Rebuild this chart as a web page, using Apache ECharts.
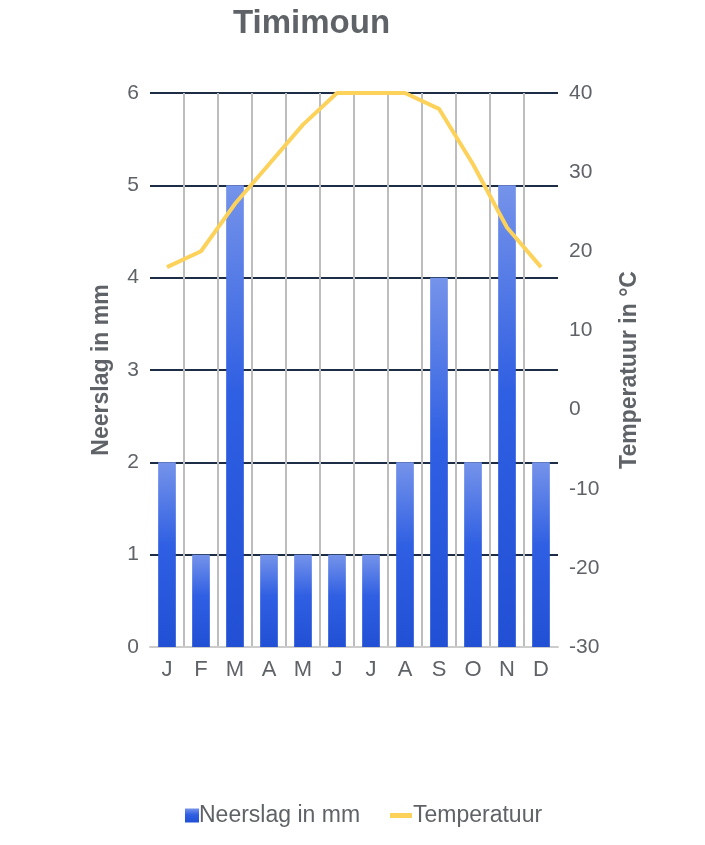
<!DOCTYPE html>
<html lang="nl">
<head>
    <meta charset="UTF-8">
    <title>Timimoun</title>
    <script src="https://cdn.jsdelivr.net/npm/echarts@6/dist/echarts.min.js"></script>
    <style>
        html, body { margin: 0; padding: 0; background: #fff; }
    </style>
</head>
<body>
<div id="main" style="width: 705px;height:845px;"></div>
<script>
    // maanden
    var months = ['J', 'F', 'M', 'A', 'M', 'J', 'J', 'A', 'S', 'O', 'N', 'D'];
    // neerslag in mm
    var rain = [2, 1, 5, 1, 1, 1, 1, 2, 4, 2, 5, 2];
    // temperatuur in °C
    var temp = [18, 20, 26, 31, 36, 40, 40, 40, 38, 31, 23, 18];

    var textColor = '#5f6368';
    var font = '"Liberation Sans", Arial, sans-serif';

    var myChart = echarts.init(document.getElementById('main'));

    var option = {
        backgroundColor: '#fff',
        animation: false,
        textStyle: { fontFamily: font },
        title: {
            text: 'Timimoun',
            left: 228,
            top: 2,
            textStyle: {
                color: textColor,
                fontSize: 33,
                fontWeight: 'bold',
                fontFamily: font
            }
        },
        legend: [
            {
                data: [{ name: 'Neerslag in mm', icon: 'rect' }],
                left: 180,
                top: 799,
                itemWidth: 14,
                itemHeight: 14,
                itemGap: 5,
                textStyle: { color: textColor, fontSize: 23, fontFamily: font, padding: [0, 0, 0, -5] }
            },
            {
                data: [{ name: 'Temperatuur', icon: 'rect' }],
                left: 385,
                top: 799,
                itemWidth: 22,
                itemHeight: 5,
                textStyle: { color: textColor, fontSize: 23, fontFamily: font, padding: [0, 0, 0, -4] }
            }
        ],
        grid: {
            left: 150,
            right: 147,
            top: 93,
            bottom: 198
        },
        xAxis: {
            type: 'category',
            data: months,
            boundaryGap: true,
            axisLine: { show: true, lineStyle: { color: '#cccccc', width: 2 } },
            axisTick: { show: false },
            axisLabel: { color: textColor, fontSize: 22, margin: 12, fontFamily: font },
            splitLine: {
                show: true,
                showMinLine: false,
                showMaxLine: false,
                lineStyle: { color: '#bdbdbd', width: 2 }
            }
        },
        yAxis: [
            {
                type: 'value',
                min: 0,
                max: 6,
                interval: 1,
                name: 'Neerslag in mm',
                nameLocation: 'middle',
                nameGap: 37,
                nameRotate: 90,
                nameTextStyle: { color: textColor, fontSize: 23, fontWeight: 'bold', fontFamily: font },
                axisLine: { show: false },
                axisTick: { show: false },
                axisLabel: { color: textColor, fontSize: 21, margin: 11, fontFamily: font },
                splitLine: {
                    show: true,
                    showMinLine: false,
                    lineStyle: { color: '#1c2d45', width: 2 }
                }
            },
            {
                type: 'value',
                min: -30,
                max: 40,
                interval: 10,
                name: 'Temperatuur in °C',
                nameLocation: 'middle',
                nameGap: 60,
                nameRotate: 90,
                nameTextStyle: { color: textColor, fontSize: 23, fontWeight: 'bold', fontFamily: font },
                axisLine: { show: false },
                axisTick: { show: false },
                axisLabel: { color: textColor, fontSize: 21, margin: 11, fontFamily: font },
                splitLine: { show: false }
            }
        ],
        series: [
            {
                name: 'Neerslag in mm',
                type: 'bar',
                yAxisIndex: 0,
                data: rain,
                barWidth: '52%',
                itemStyle: {
                    color: new echarts.graphic.LinearGradient(0, 0, 0, 1, [
                        { offset: 0, color: '#7593ea' },
                        { offset: 0.45, color: '#2f5fe2' },
                        { offset: 1, color: '#2150d4' }
                    ])
                }
            },
            {
                name: 'Temperatuur',
                type: 'line',
                yAxisIndex: 1,
                data: temp,
                showSymbol: false,
                symbol: 'none',
                lineStyle: { color: '#fcd25a', width: 4 },
                itemStyle: { color: '#fcd25a' }
            }
        ]
    };
    myChart.setOption(option);
</script>
</body>
</html>
